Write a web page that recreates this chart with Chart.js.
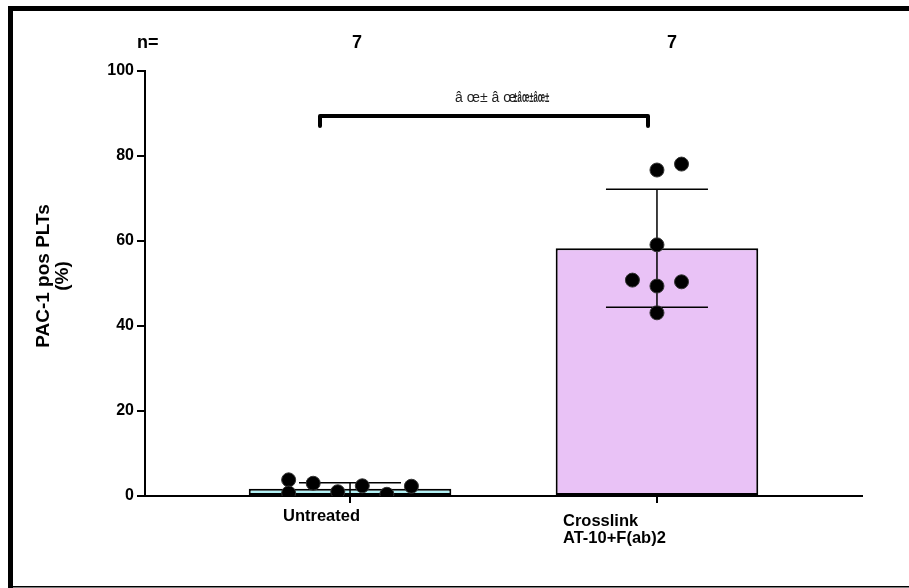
<!DOCTYPE html>
<html lang="en">
<head>
    <meta charset="UTF-8">
    <title>PAC-1 pos PLTs</title>
    <script src="https://cdn.jsdelivr.net/npm/chart.js"></script>
    <style>
        html, body { margin: 0; padding: 0; background: #fff; }
        #wrap { width: 909px; height: 588px; }
    </style>
</head>
<body>
    <div id="wrap"><canvas id="chart" width="909" height="588"></canvas></div>

    <script>
        // data
        const groups = ["Untreated", ["Crosslink", "AT-10+F(ab)2"]];
        const groupN = ["7", "7"];
        const means = [1.7, 58.3];
        const sds = [1.4, 13.9];
        const barColors = ["#b2f1f5", "#e9c2f6"];
        const untreatedPoints = [3.8, 0.7, 3.0, 1.0, 2.4, 0.4, 2.3];
        const untreatedJitter = [-0.2, -0.2, -0.12, -0.04, 0.04, 0.12, 0.2];
        const crosslinkPoints = [76.7, 78.1, 59.1, 50.8, 49.4, 50.4, 43.1];
        const crosslinkJitter = [0, 0.08, 0, -0.08, 0, 0.08, 0];
        const yTicks = [0, 20, 40, 60, 80, 100];
        const sigLabel = "â œ± â œ";
        const sigTail = "±âœ±âœ±";

        const FONT = "'Liberation Sans', Arial, sans-serif";

        const points = [];
        untreatedPoints.forEach((v, i) => points.push({ x: 0 + untreatedJitter[i], y: v }));
        crosslinkPoints.forEach((v, i) => points.push({ x: 1 + crosslinkJitter[i], y: v }));

        const extras = {
            id: "extras",
            afterDatasetDraw(chart, args) {
                if (args.index !== 0) return;
                const ctx = chart.ctx;
                const xs = chart.scales.x, ys = chart.scales.y;
                ctx.save();
                ctx.strokeStyle = "#000";
                ctx.lineWidth = 1.5;
                means.forEach((m, i) => {
                    const cx = xs.getPixelForValue(i);
                    const half = 51;
                    const top = ys.getPixelForValue(m + sds[i]);
                    const bot = ys.getPixelForValue(m - sds[i]);
                    ctx.beginPath();
                    ctx.moveTo(cx, top); ctx.lineTo(cx, bot);
                    ctx.moveTo(cx - half, top); ctx.lineTo(cx + half, top);
                    ctx.moveTo(cx - half, bot); ctx.lineTo(cx + half, bot);
                    ctx.stroke();
                });
                ctx.restore();
            },
            afterDraw(chart) {
                const ctx = chart.ctx;
                const xs = chart.scales.x;
                ctx.save();
                ctx.fillStyle = "#000";

                // frame
                ctx.fillRect(8, 6, 901, 5);
                ctx.fillRect(8, 6, 5, 582);
                ctx.fillRect(8, 586, 901, 1.5);

                // n= row
                ctx.font = "bold 18px " + FONT;
                ctx.textBaseline = "middle";
                ctx.textAlign = "left";
                ctx.fillText("n=", 137, 43);
                ctx.textAlign = "center";
                ctx.fillText(groupN[0], xs.getPixelForValue(0) + 7, 43);
                ctx.fillText(groupN[1], xs.getPixelForValue(1) + 15, 43);

                // x labels
                ctx.font = "bold 16.5px " + FONT;
                ctx.textAlign = "left";
                const c0 = xs.getPixelForValue(0), c1 = xs.getPixelForValue(1);
                ctx.fillText(groups[0], c0 - 67, 516);
                ctx.fillText(groups[1][0], c1 - 94, 521);
                ctx.fillText(groups[1][1], c1 - 94, 538);

                // y title
                ctx.font = "bold 19px " + FONT;
                ctx.textAlign = "center";
                ctx.translate(44, 276);
                ctx.rotate(-Math.PI / 2);
                ctx.fillText("PAC-1 pos PLTs", 0, 0);
                ctx.fillText("(%)", 0, 19);
                ctx.setTransform(1, 0, 0, 1, 0, 0);

                // bracket
                ctx.strokeStyle = "#000";
                ctx.lineWidth = 4;
                ctx.lineCap = "round";
                ctx.lineJoin = "round";
                ctx.beginPath();
                ctx.moveTo(320, 126);
                ctx.lineTo(320, 116);
                ctx.lineTo(648, 116);
                ctx.lineTo(648, 126);
                ctx.stroke();

                // significance text
                ctx.font = "14px " + FONT;
                ctx.textAlign = "left";
                ctx.fillStyle = "#222";
                ctx.fillText(sigLabel, 455, 98);
                const w = ctx.measureText(sigLabel).width;
                ctx.font = "bold 14px " + FONT;
                ctx.fillText(sigTail, 455 + w - 3, 98, 36);
                ctx.restore();
            }
        };

        const chart = new Chart(document.getElementById("chart"), {
            data: {
                datasets: [{
                    type: "bar",
                    order: 2,
                    data: means.map((m, i) => ({ x: i, y: m })),
                    backgroundColor: barColors,
                    borderColor: "#000",
                    borderWidth: 2,
                    borderSkipped: false,
                    barPercentage: 0.66,
                    categoryPercentage: 1
                }, {
                    type: "scatter",
                    order: 1,
                    data: points,
                    pointRadius: 7,
                    backgroundColor: "#000",
                    borderColor: "#333",
                    borderWidth: 1
                }]
            },
            options: {
                responsive: false,
                animation: false,
                layout: { padding: { top: 71, right: 47, left: 0, bottom: 0 } },
                plugins: {
                    legend: { display: false },
                    tooltip: { enabled: false }
                },
                scales: {
                    x: {
                        type: "linear",
                        offset: false,
                        min: -0.668,
                        max: 1.668,
                        afterBuildTicks: s => { s.ticks = [{ value: 0 }, { value: 1 }]; },
                        afterFit: s => { s.height = 92; },
                        ticks: { display: false },
                        grid: { offset: false, drawOnChartArea: false, drawTicks: true, tickLength: 7, color: "#000", lineWidth: 2 },
                        border: { display: true, color: "#000", width: 2 }
                    },
                    y: {
                        min: 0,
                        max: 100,
                        afterBuildTicks: s => { s.ticks = yTicks.map(v => ({ value: v })); },
                        afterFit: s => { s.width = 145; },
                        ticks: {
                            color: "#000",
                            padding: 3,
                            font: { family: FONT, size: 16, weight: "bold" }
                        },
                        grid: { drawOnChartArea: false, drawTicks: true, tickLength: 8, color: "#000", lineWidth: 2 },
                        border: { display: true, color: "#000", width: 2 }
                    }
                }
            },
            plugins: [extras]
        });
    </script>
</body>
</html>
